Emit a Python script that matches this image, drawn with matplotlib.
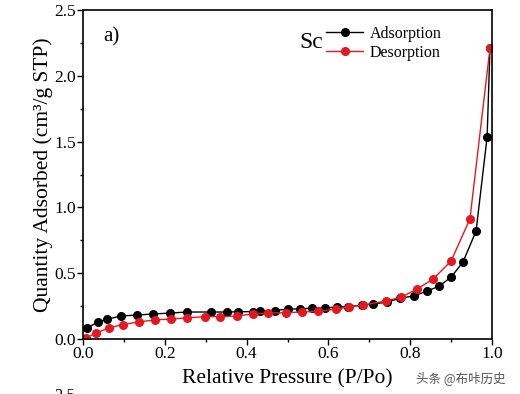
import matplotlib.pyplot as plt
from matplotlib.ticker import MultipleLocator

# adsorption branch (black)
ads_x = [0.010, 0.037, 0.059, 0.093, 0.132, 0.171, 0.213, 0.254, 0.313, 0.352, 0.379, 0.416,
         0.433, 0.469, 0.501, 0.531, 0.560, 0.592, 0.621, 0.648, 0.682, 0.709, 0.743, 0.775,
         0.809, 0.841, 0.870, 0.900, 0.929, 0.961, 0.988, 0.995]
ads_y = [0.084, 0.130, 0.150, 0.175, 0.182, 0.190, 0.197, 0.205, 0.205, 0.205, 0.207, 0.208,
         0.210, 0.216, 0.228, 0.228, 0.235, 0.236, 0.243, 0.245, 0.258, 0.266, 0.280, 0.310,
         0.327, 0.365, 0.400, 0.470, 0.585, 0.820, 1.535, 2.210]

# desorption branch (red)
des_x = [0.008, 0.032, 0.064, 0.098, 0.137, 0.176, 0.215, 0.254, 0.298, 0.335, 0.376, 0.416,
         0.452, 0.496, 0.535, 0.575, 0.619, 0.650, 0.685, 0.741, 0.778, 0.817, 0.856, 0.900,
         0.946, 0.995]
des_y = [0.008, 0.045, 0.085, 0.110, 0.130, 0.145, 0.152, 0.160, 0.170, 0.170, 0.175, 0.190,
         0.197, 0.200, 0.205, 0.210, 0.228, 0.243, 0.258, 0.289, 0.318, 0.380, 0.456, 0.593,
         0.912, 2.210]

plt.rcParams['font.family'] = ['Liberation Serif', 'DejaVu Serif']

fig = plt.figure(figsize=(5.2, 3.94), dpi=100)
ax = fig.add_axes([0.1596, 0.1396, 0.7866, 0.835])

ax.plot(ads_x, ads_y, color="black", lw=1.0, marker="o", ms=5.5, label="Adsorption")
ax.plot(des_x, des_y, color="#e3191f", lw=1.0, marker="o", ms=5.5, label="Desorption")

ax.set_xlim(0, 1.0)
ax.set_ylim(0, 2.5)
ax.xaxis.set_major_locator(MultipleLocator(0.2))
ax.xaxis.set_minor_locator(MultipleLocator(0.1))
ax.yaxis.set_major_locator(MultipleLocator(0.5))
ax.yaxis.set_minor_locator(MultipleLocator(0.25))
ax.xaxis.set_major_formatter(plt.FormatStrFormatter("%.1f"))
ax.yaxis.set_major_formatter(plt.FormatStrFormatter("%.1f"))
ax.tick_params(which="major", direction="out", length=4, width=1, labelsize=12.5, pad=1)
ax.tick_params(which="minor", direction="out", length=2.5, width=1)
for s in ax.spines.values():
    s.set_linewidth(1.2)

ax.set_xlabel("Relative Pressure (P/Po)", fontsize=15.5, labelpad=5)
ax.set_ylabel("Quantity Adsorbed (cm\u00b3/g STP)", fontsize=15.5, labelpad=1)

ax.text(0.049, 0.918, "a)", transform=ax.transAxes, fontsize=15, va="center")
ax.text(0.53, 0.9, "Sc", transform=ax.transAxes, fontsize=17, va="center")
ax.legend(loc="upper left", bbox_to_anchor=(0.595, 0.952), frameon=False, fontsize=11.5,
          handlelength=2.3, handletextpad=0.4, labelspacing=0.2, borderaxespad=0,
          borderpad=0)

fig.text(0.80, 0.04, "头条 @布咔历史", fontsize=9, color="#555555",
         family=["Noto Sans CJK SC", "DejaVu Sans"], va="center")
fig.text(0.105, -0.005, "2.5", fontsize=12, va="center")

fig.savefig("out.png", dpi=100)
